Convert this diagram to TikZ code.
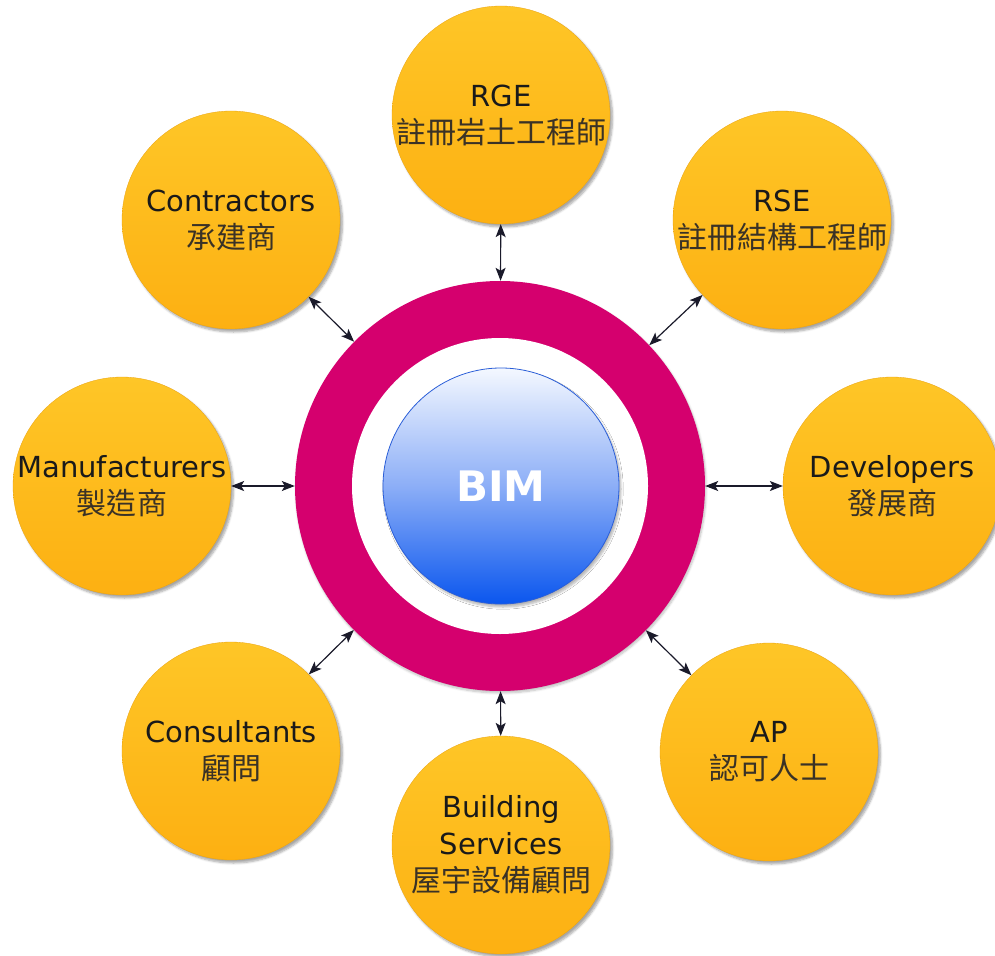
\documentclass[tikz,border=0pt]{standalone}
\usepackage{fontspec}
\setmainfont{DejaVu Sans}
\newfontfamily\cjk{Noto Sans CJK TC}
\usetikzlibrary{arrows.meta,shadows.blur}
\definecolor{ringc}{HTML}{D5006E}
\definecolor{orbtop}{HTML}{FEC627}
\definecolor{orbbot}{HTML}{FDB012}
\definecolor{bimtop}{HTML}{F4F8FF}
\definecolor{bimmid}{HTML}{8CAEF7}
\definecolor{bimbot}{HTML}{0A56EE}
\definecolor{bimedge}{HTML}{2A5ED8}
\definecolor{txt}{HTML}{1A1A1A}
\definecolor{cjktxt}{HTML}{3A3226}
\definecolor{arrowc}{HTML}{1A1A2A}
\tikzset{
  orb/.style={circle, minimum size=218pt, inner sep=0pt, top color=orbtop, bottom color=orbbot,
    draw=orbbot!92!black, line width=0.3pt,
    blur shadow={shadow xshift=2.5pt, shadow yshift=-3pt, shadow opacity=35, shadow blur steps=6}},
  lbl/.style={align=center, inner sep=0pt, text=txt, font=\fontsize{29}{37}\selectfont},
  tip/.tip={Stealth[length=13pt,width=10pt,inset=3pt]},
  conn/.style={draw=arrowc, line width=1.2pt, tip-tip},
}
\newcommand{\zh}[1]{{\cjk\fontsize{30}{37}\selectfont\color{cjktxt}#1}}
\begin{document}
\begin{tikzpicture}[x=1pt,y=-1pt]
\useasboundingbox (0,0) rectangle (995,955);
% central ring and BIM
\node[circle, minimum size=410pt, inner sep=0pt, fill=ringc,
  blur shadow={shadow xshift=1pt, shadow yshift=-2pt, shadow opacity=25, shadow blur steps=6}] (ring) at (500,486) {};
\node[circle, minimum size=296pt, inner sep=0pt, fill=white] (hole) at (ring) {};
\node[circle, minimum size=236pt, inner sep=0pt, draw=bimedge, line width=0.8pt,
  top color=bimtop, bottom color=bimbot, middle color=bimmid,
  blur shadow={shadow xshift=2pt, shadow yshift=-3pt, shadow opacity=30, shadow blur steps=6},
  font=\fontsize{42}{42}\selectfont\bfseries, text=white] (bim) at (501,486) {BIM};
% outer orbs
\node[orb] (rge) at (501,115) {};
\node[orb] (rse) at (782,220) {};
\node[orb] (dev) at (892,486) {};
\node[orb] (ap) at (769,752) {};
\node[orb] (bs) at (501,845) {};
\node[orb] (cons) at (231,751) {};
\node[orb] (man) at (122,486) {};
\node[orb] (contr) at (231,220) {};
% labels
\node[lbl] (rge-t) at (rge) {RGE\\\zh{註冊岩土工程師}};
\node[lbl] (rse-t) at (rse) {RSE\\\zh{註冊結構工程師}};
\node[lbl] (dev-t) at (dev) {Developers\\\zh{發展商}};
\node[lbl] (ap-t) at (ap) {AP\\\zh{認可人士}};
\node[lbl] (bs-t) at (bs) {Building\\Services\\\zh{屋宇設備顧問}};
\node[lbl] (cons-t) at (cons) {Consultants\\\zh{顧問}};
\node[lbl] (man-t) at (man) {Manufacturers\\\zh{製造商}};
\node[lbl] (contr-t) at (contr) {Contractors\\\zh{承建商}};
% connectors
\foreach \n in {rge,rse,dev,ap,bs,cons,man,contr}
  \draw[conn] (\n) -- (ring);
\end{tikzpicture}
\end{document}
